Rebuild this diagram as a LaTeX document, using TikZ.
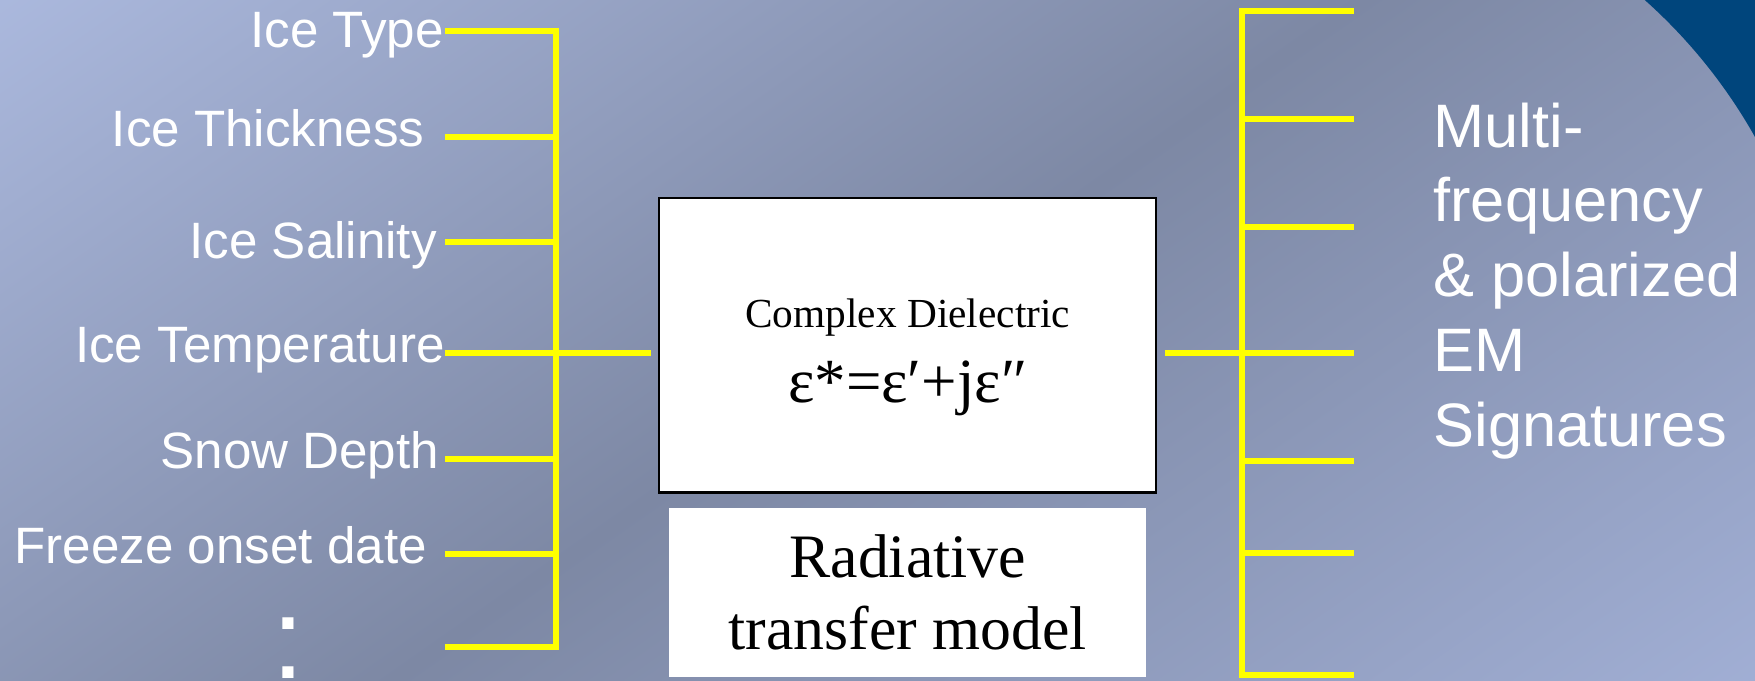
\documentclass[tikz,border=0pt]{standalone}
\usepackage{fontspec}
\setmainfont{Liberation Serif}
\newfontfamily\arialfont{Liberation Sans}
\usetikzlibrary{positioning}

\definecolor{bgLight}{RGB}{176,190,228}
\definecolor{bgDark}{RGB}{125,136,164}
\definecolor{bgPale}{RGB}{165,179,218}
\definecolor{cornerBlue}{RGB}{0,69,124}
\definecolor{tickYellow}{RGB}{255,255,0}

\begin{document}
\begin{tikzpicture}[
    link/.style={draw=tickYellow, line width=1.5pt, line cap=rect},
    param/.style={anchor=mid east, inner sep=0pt, text=white, font=\arialfont\fontsize{13}{15.6}\selectfont},
    dotmark/.style={inner sep=0pt, align=center, text=white, font=\arialfont\bfseries\fontsize{20}{12.5}\selectfont},
    modelbox/.style={rectangle, draw=black, line width=0.6pt, fill=white, minimum width=4.44cm, minimum height=2.63cm},
    boxtext/.style={inner sep=0pt, align=center, font=\fontsize{10.5}{12.6}\selectfont},
    rtmbox/.style={rectangle, fill=white, minimum width=4.26cm, minimum height=1.51cm, align=center, font=\fontsize{15.7}{18.5}\selectfont},
    sigtext/.style={anchor=north west, inner sep=0pt, text=white, align=left, font=\arialfont\fontsize{15.6}{19}\selectfont}
  ]

  % background
  \useasboundingbox (0,0) rectangle (15.68,6.08);
  \begin{scope}
    \clip (0,0) rectangle (15.68,6.08);
    \shade[top color=bgLight, bottom color=bgPale, middle color=bgDark, shading angle=35]
      (0,-4.8) rectangle (15.68,10.88);
    \fill[cornerBlue] (14.695,6.08) arc[start angle=48.3, end angle=29.25, radius=4.77]
      -- (15.68,6.08) -- cycle;
  \end{scope}

  % centre boxes
  \node[modelbox] (cdb) at (8.11,2.995) {};
  \node[boxtext, yshift=-1.05mm] (cdt) at (cdb)
    {Complex Dielectric\\[5.3pt]
     {\fontsize{16}{19}\selectfont ε*=ε′+jε″}};
  \node[rtmbox, below=1.2mm of cdb] (rtm) {Radiative\\transfer model};

  % input parameters
  \node[param] (type) at (3.97,5.735) {Ice Type};
  \node[param] (thick) at (3.80,4.855) {Ice Thickness};
  \node[param] (salt) at (3.91,3.855) {Ice Salinity};
  \node[param] (temp) at (3.98,2.925) {Ice Temperature};
  \node[param] (snow) at (3.93,1.975) {Snow Depth};
  \node[param] (onset) at (3.82,1.125) {Freeze onset date};
  \node[dotmark] (dots) at (2.58,0.29) {.\\.};

  \foreach \i/\ty in {1/5.80, 2/4.86, 3/3.92, 4/2.93, 5/1.98, 6/1.13, 7/0.30}{
    \coordinate (lt\i) at (4.00,\ty);
    \coordinate (lb\i) at (4.97,\ty);
    \draw[link] (lt\i) -- (lb\i);
  }
  \draw[link] (lb1) -- (lb7);
  \draw[link, shorten >=0.9mm] (lb4) -- (lb4 -| cdb.west);

  % signatures
  \foreach \i/\ty in {1/5.98, 2/5.02, 3/4.05, 4/2.93, 5/1.96, 6/1.14, 7/0.05}{
    \coordinate (rb\i) at (11.10,\ty);
    \coordinate (rt\i) at (12.07,\ty);
    \draw[link] (rb\i) -- (rt\i);
  }
  \draw[link] (rb1) -- (rb7);
  \draw[link, shorten <=0.9mm] (rb4 -| cdb.east) -- (rb4);

  \node[sigtext] (sig) at (12.80,5.17)
    {Multi-\\frequency\\\& polarized\\EM\\Signatures};

\end{tikzpicture}
\end{document}
